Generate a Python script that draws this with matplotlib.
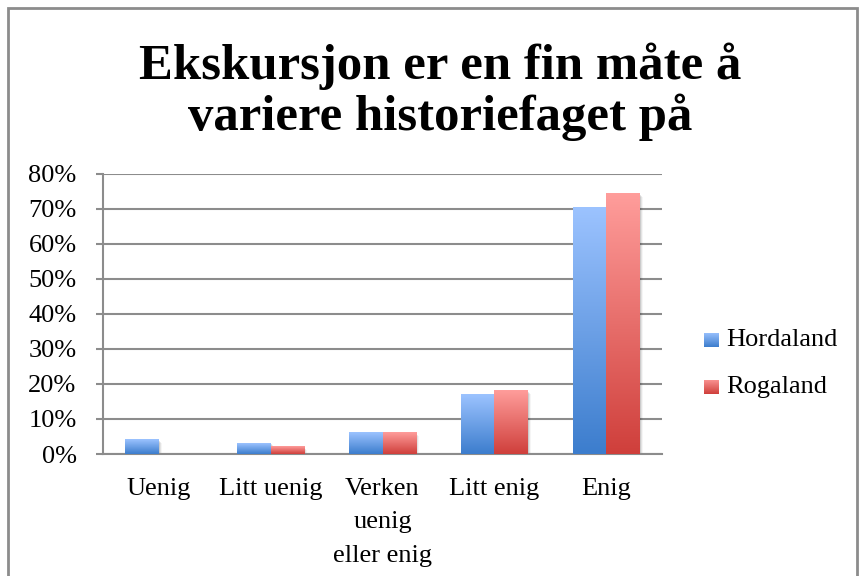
import matplotlib.pyplot as plt
import matplotlib.transforms as mtransforms
from matplotlib.colors import LinearSegmentedColormap
from matplotlib.patches import Rectangle
import numpy as np

categories = ['Uenig', 'Litt uenig', 'Verken\nuenig\neller enig', 'Litt enig', 'Enig']
hordaland = [0.04, 0.031, 0.06, 0.171, 0.704]
rogaland = [0.0, 0.02, 0.06, 0.18, 0.743]
series_names = ['Hordaland', 'Rogaland']
yticks = [0, 0.1, 0.2, 0.3, 0.4, 0.5, 0.6, 0.7, 0.8]
title = 'Ekskursjon er en fin måte å\nvariere historiefaget på'

blue_cmap = LinearSegmentedColormap.from_list('b', ['#3c7dcd', '#9cc3ff'])
red_cmap = LinearSegmentedColormap.from_list('r', ['#cf3f3b', '#ff9d9b'])

serif = 'Liberation Serif'
fs = 19

fig = plt.figure(figsize=(8.62, 5.76), dpi=100)
ax = fig.add_axes([0.1195, 0.2118, 0.6485, 0.4862])

grad = np.linspace(0, 1, 256).reshape(-1, 1)
width = 0.3
x = np.arange(len(categories))


def gradient_bar(xc, h, cmap):
    if h <= 0:
        return
    x0, x1 = xc - width / 2, xc + width / 2
    # soft drop shadow
    for i, a in enumerate([0.10, 0.07, 0.04]):
        off = mtransforms.offset_copy(ax.transData, fig=fig, x=1 + i, y=-(1 + i), units='dots')
        ax.add_patch(Rectangle((x0, 0), width, h, transform=off, facecolor='black',
                               alpha=a, edgecolor='none', zorder=2))
    ax.imshow(grad, extent=[x0, x1, 0, h], origin='lower', aspect='auto',
              cmap=cmap, zorder=3, interpolation='bilinear')


for i in range(len(categories)):
    gradient_bar(x[i] - width / 2, hordaland[i], blue_cmap)
    gradient_bar(x[i] + width / 2, rogaland[i], red_cmap)

ax.set_xlim(-0.5, len(categories) - 0.5)
ax.set_ylim(0, 0.8)
ax.set_yticks(yticks)
ax.set_yticklabels([f'{int(round(v * 100))}%' for v in yticks], fontsize=fs, family=serif)
ax.set_xticks(x)
ax.set_xticklabels(categories, fontsize=fs, family=serif, linespacing=1.68)
ax.tick_params(axis='x', length=0, pad=17)
ax.tick_params(axis='y', length=5, width=1.5, color='#8c8c8c', direction='out', pad=14)
ax.yaxis.grid(True, color='#8c8c8c', linewidth=1.5, zorder=1)
ax.set_axisbelow(True)
for s in ['top', 'right']:
    ax.spines[s].set_visible(False)
for s in ['left', 'bottom']:
    ax.spines[s].set_color('#8c8c8c')
    ax.spines[s].set_linewidth(1.5)

fig.text(0.511, 0.841, title, ha='center', va='center', fontsize=36.5,
         fontweight='bold', family=serif, linespacing=1.08)

# legend
for j, (name, cmap) in enumerate(zip(series_names, [blue_cmap, red_cmap])):
    yc = 1 - (340 + j * 47) / 576
    lax = fig.add_axes([704 / 862, yc - 7.5 / 576, 15 / 862, 15 / 576])
    lax.imshow(grad, origin='lower', aspect='auto', cmap=cmap, extent=[0, 1, 0, 1])
    lax.axis('off')
    fig.text(726 / 862, yc, name, ha='left', va='center', fontsize=fs, family=serif)

fig.add_artist(Rectangle((8 / 862, -0.05), (857 - 8) / 862, 1.05 - 8 / 576,
                         transform=fig.transFigure, fill=False, edgecolor='#8c8c8c',
                         linewidth=2))

fig.savefig('out.png', dpi=100)
